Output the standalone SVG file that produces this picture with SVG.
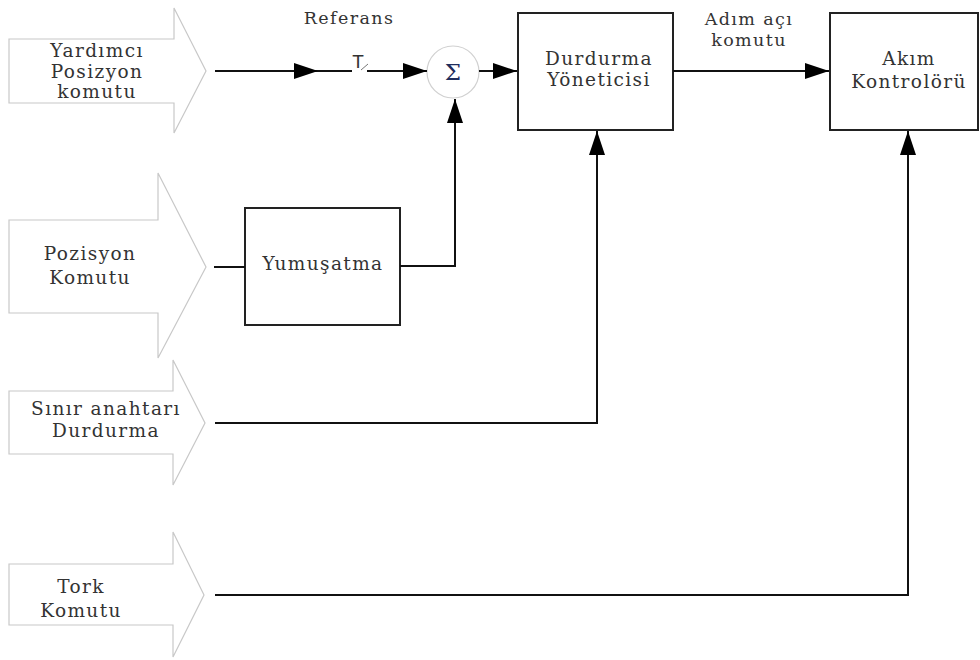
<svg xmlns="http://www.w3.org/2000/svg" width="980" height="660" viewBox="0 0 980 660">
  <style>
    .in { fill: #ffffff; stroke: #c8c8c8; stroke-width: 1.2; }
    .box { fill: #ffffff; stroke: #222222; stroke-width: 2; }
    .sum { fill: #ffffff; stroke: #d0d0d0; stroke-width: 1.2; }
    .wire { fill: none; stroke: #111111; stroke-width: 2; }
    .lbl { font-family: "DejaVu Serif", "Liberation Serif", serif; font-size: 18.5px; letter-spacing: 1.4px; fill: #333333; text-anchor: middle; }
    .sm { font-family: "DejaVu Serif", "Liberation Serif", serif; font-size: 17.5px; letter-spacing: 1.4px; fill: #333333; text-anchor: middle; }
  </style>
  <defs>
    <marker id="ah" markerUnits="userSpaceOnUse" markerWidth="25" markerHeight="17" refX="24" refY="8" orient="auto">
      <path d="M0,0 L24,8 L0,16 Z" fill="#000000"/>
    </marker>
  </defs>
  <rect width="980" height="660" fill="#ffffff"/>

  <!-- input arrows -->
  <g id="in-yardimci">
    <path class="in" d="M9,39 H174 V8 L206,71 L174,133 V103 H9 Z"/>
    <text class="lbl" x="97" y="57">Yardımcı</text>
    <text class="lbl" x="97" y="78">Posizyon</text>
    <text class="lbl" x="97" y="98">komutu</text>
  </g>
  <g id="in-pozisyon">
    <path class="in" d="M9,220 H158 V173 L206,267 L158,358 V313 H9 Z"/>
    <text class="lbl" x="90" y="260">Pozisyon</text>
    <text class="lbl" x="90" y="284">Komutu</text>
  </g>
  <g id="in-sinir">
    <path class="in" d="M9,391 H173 V360 L205,423 L173,485 V454 H9 Z"/>
    <text class="lbl" x="106" y="415">Sınır anahtarı</text>
    <text class="lbl" x="106" y="437">Durdurma</text>
  </g>
  <g id="in-tork">
    <path class="in" d="M9,564 H173 V532 L204,595 L173,657 V625 H9 Z"/>
    <text class="lbl" x="81" y="593">Tork</text>
    <text class="lbl" x="81" y="617">Komutu</text>
  </g>

  <!-- blocks -->
  <g id="yumusatma">
    <rect class="box" x="245" y="208" width="155" height="117"/>
    <text class="lbl" x="323" y="270">Yumuşatma</text>
  </g>
  <g id="toplam">
    <circle class="sum" cx="453" cy="72" r="26"/>
    <text x="453" y="80" font-family="DejaVu Serif, serif" font-size="23" fill="#1f2d5c" text-anchor="middle">Σ</text>
  </g>
  <g id="durdurma">
    <rect class="box" x="518" y="13" width="155" height="117"/>
    <text class="lbl" x="599" y="65">Durdurma</text>
    <text class="lbl" x="599" y="86">Yöneticisi</text>
  </g>
  <g id="akim">
    <rect class="box" x="830" y="13" width="148" height="117"/>
    <text class="lbl" x="909" y="65">Akım</text>
    <text class="lbl" x="909" y="88">Kontrolörü</text>
  </g>

  <!-- connectors -->
  <g id="connectors">
    <line class="wire" x1="215" y1="71" x2="318" y2="71" marker-end="url(#ah)"/>
    <line class="wire" x1="318" y1="71" x2="352" y2="71"/>
    <text x="358" y="68" font-family="Liberation Sans, sans-serif" font-size="19" fill="#333333" text-anchor="middle">T</text>
    <line x1="361" y1="70" x2="368" y2="64" stroke="#777777" stroke-width="1"/>
    <line class="wire" x1="367" y1="71" x2="427" y2="71" marker-end="url(#ah)"/>
    <line class="wire" x1="479" y1="71" x2="517" y2="71" marker-end="url(#ah)"/>
    <line class="wire" x1="673" y1="71" x2="829" y2="71" marker-end="url(#ah)"/>
    <line class="wire" x1="214" y1="267" x2="245" y2="267"/>
    <polyline class="wire" points="400,266 455,266 455,99" marker-end="url(#ah)"/>
    <polyline class="wire" points="215,423 597,423 597,131" marker-end="url(#ah)"/>
    <polyline class="wire" points="215,595 908,595 908,131" marker-end="url(#ah)"/>
    <text class="sm" x="349" y="24">Referans</text>
    <text class="sm" x="749" y="25">Adım açı</text>
    <text class="sm" x="749" y="46">komutu</text>
  </g>
</svg>
